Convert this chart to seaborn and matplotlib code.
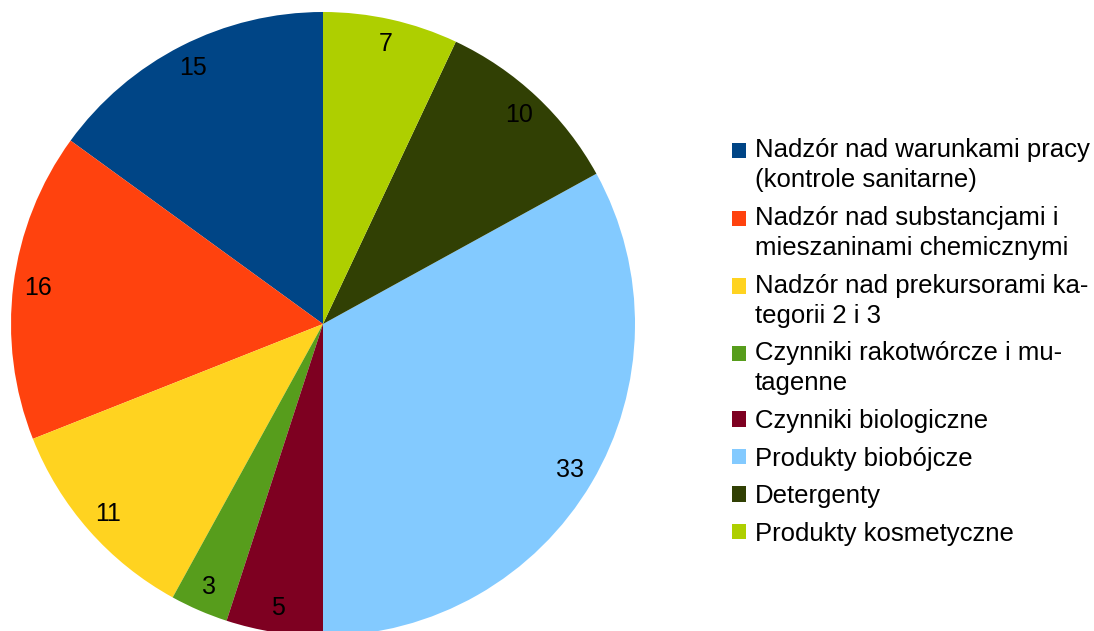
import matplotlib
matplotlib.use("Agg")
import matplotlib.pyplot as plt
import seaborn as sns
from matplotlib.legend_handler import HandlerPatch
from matplotlib.patches import Rectangle

categories = [
    "Nadzór nad warunkami pracy\n(kontrole sanitarne)",
    "Nadzór nad substancjami i\nmieszaninami chemicznymi",
    "Nadzór nad prekursorami ka-\ntegorii 2 i 3",
    "Czynniki rakotwórcze i mu-\ntagenne",
    "Czynniki biologiczne",
    "Produkty biobójcze",
    "Detergenty",
    "Produkty kosmetyczne",
]
values = [15, 16, 11, 3, 5, 33, 10, 7]
colors = ["#004586", "#FF420E", "#FFD320", "#579D1C",
          "#7E0021", "#83CAFF", "#314004", "#AECF00"]

sns.set_theme(style="white")
plt.rcParams["font.family"] = ["Liberation Sans", "DejaVu Sans"]
plt.rcParams["text.color"] = "black"
plt.rcParams["legend.labelcolor"] = "black"

W, H = 1094, 631
fig = plt.figure(figsize=(W / 100, H / 100), dpi=100)

# pie: centre (323, 324) px, radius 312 px
cx, cy, r = 323, 324, 312
ax = fig.add_axes([(cx - r) / W, (H - cy - r) / H, 2 * r / W, 2 * r / H])
total = sum(values)
wedges, texts, autotexts = ax.pie(
    values, colors=colors, startangle=90, counterclock=True,
    autopct=lambda p: f"{p * total / 100:.0f}", pctdistance=0.92,
    textprops=dict(fontsize=18, color="black"),
    wedgeprops=dict(linewidth=0),
)
ax.set_xlim(-1, 1)
ax.set_ylim(-1, 1)
ax.set_aspect("equal")

LINE_PX = 30


def square_handler(nlines):
    # move the square up to the first line of a wrapped label
    shift = (nlines - 1) * 0.5 * LINE_PX * 72 / 100

    def make(legend, orig_handle, xdescent, ydescent, width, height, fontsize):
        return Rectangle((-xdescent, -ydescent + shift), width, height)
    return HandlerPatch(patch_func=make)


handler_map = {w: square_handler(lbl.count("\n") + 1)
               for w, lbl in zip(wedges, categories)}

leg = fig.legend(wedges, categories, loc="center left",
                 bbox_to_anchor=(732 / W, 1 - 342 / H),
                 frameon=False, fontsize=18.5, handlelength=0.55,
                 handleheight=0.55, handletextpad=0.33, labelspacing=0.53,
                 borderpad=0, borderaxespad=0, handler_map=handler_map)
for t in leg.get_texts():
    t.set_linespacing(1.32)

fig.savefig("out.png", dpi=100)
